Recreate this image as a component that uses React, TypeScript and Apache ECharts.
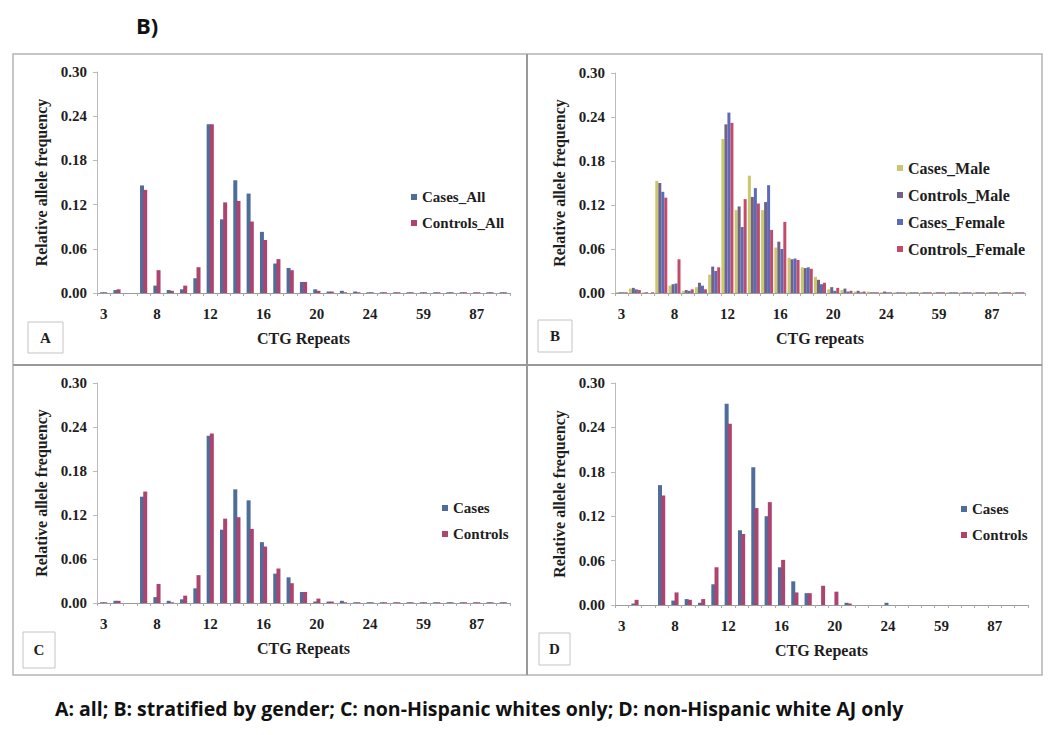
import React, { useEffect, useRef } from "react";
import * as echarts from "echarts";

// CTG repeat categories (only every 4th label is shown on the axis)
const categories = [
  "3", "4", "5", "7", "8", "9", "10", "11", "12", "13", "14", "15", "16", "17", "18", "19",
  "20", "21", "22", "23", "24", "25", "26", "28", "59", "64", "70", "80", "87", "93", "100",
];

const yTicks = [0, 0.06, 0.12, 0.18, 0.24, 0.3];

// Panel A: all
const casesAll = [0.001, 0.004, 0, 0.146, 0.010, 0.004, 0.005, 0.020, 0.229, 0.100, 0.153, 0.135, 0.083, 0.040, 0.034, 0.015, 0.005, 0.002, 0.003, 0.002, 0.001, 0.001, 0.001, 0.001, 0.001, 0.001, 0.001, 0.001, 0.001, 0.001, 0.001];
const controlsAll = [0.001, 0.005, 0, 0.140, 0.031, 0.003, 0.010, 0.035, 0.229, 0.123, 0.125, 0.097, 0.072, 0.046, 0.031, 0.015, 0.003, 0.002, 0.001, 0.001, 0.001, 0.001, 0.001, 0.001, 0.001, 0.001, 0.001, 0.001, 0.001, 0.001, 0.001];

// Panel B: stratified by gender
const casesMale = [0.001, 0.006, 0.001, 0.153, 0.010, 0.003, 0.008, 0.025, 0.210, 0.113, 0.160, 0.113, 0.062, 0.048, 0.035, 0.022, 0.005, 0.004, 0.002, 0.002, 0.001, 0.001, 0.001, 0.001, 0.001, 0.001, 0.001, 0.001, 0.001, 0.001, 0.001];
const controlsMale = [0.001, 0.007, 0.001, 0.150, 0.012, 0.004, 0.014, 0.036, 0.230, 0.118, 0.131, 0.124, 0.070, 0.046, 0.034, 0.018, 0.008, 0.006, 0.003, 0.001, 0.002, 0.001, 0.001, 0.001, 0.001, 0.001, 0.001, 0.001, 0.001, 0.001, 0.001];
const casesFemale = [0.001, 0.005, 0, 0.138, 0.013, 0.003, 0.010, 0.030, 0.246, 0.090, 0.143, 0.147, 0.060, 0.047, 0.035, 0.012, 0.003, 0.002, 0.001, 0.001, 0.001, 0.001, 0.001, 0.001, 0.001, 0.001, 0.001, 0.001, 0.001, 0.001, 0.001];
const controlsFemale = [0.001, 0.004, 0.001, 0.130, 0.046, 0.005, 0.005, 0.035, 0.232, 0.128, 0.122, 0.086, 0.097, 0.045, 0.033, 0.014, 0.007, 0.003, 0.002, 0.001, 0.001, 0.001, 0.001, 0.001, 0.001, 0.001, 0.001, 0.001, 0.001, 0.001, 0.001];

// Panel C: non-Hispanic whites only
const casesC = [0.001, 0.003, 0, 0.145, 0.008, 0.003, 0.005, 0.020, 0.228, 0.100, 0.155, 0.140, 0.083, 0.040, 0.035, 0.015, 0.002, 0.002, 0.003, 0.001, 0.001, 0.001, 0.001, 0.001, 0.001, 0.001, 0.001, 0.001, 0.001, 0.001, 0.001];
const controlsC = [0.001, 0.003, 0, 0.152, 0.026, 0.001, 0.010, 0.038, 0.231, 0.115, 0.117, 0.101, 0.077, 0.047, 0.027, 0.015, 0.006, 0.002, 0.001, 0.001, 0.001, 0.001, 0.001, 0.001, 0.001, 0.001, 0.001, 0.001, 0.001, 0.001, 0.001];

// Panel D: non-Hispanic white AJ only
const casesD = [0, 0.002, 0, 0.162, 0.006, 0.008, 0.003, 0.028, 0.272, 0.101, 0.186, 0.120, 0.051, 0.032, 0.016, 0, 0, 0.003, 0, 0, 0.003, 0, 0, 0, 0, 0, 0, 0, 0, 0, 0];
const controlsD = [0, 0.007, 0, 0.148, 0.017, 0.007, 0.008, 0.051, 0.245, 0.096, 0.131, 0.139, 0.061, 0.017, 0.016, 0.026, 0.018, 0.002, 0, 0, 0, 0, 0, 0, 0, 0, 0, 0, 0, 0, 0];

const SERIF = "'Liberation Serif', 'Times New Roman', serif";
const SANS = "'Open Sans', Lato, sans-serif";
const TXT = "#1e1e1e";

const C_CASES = "#4f6d9a";
const C_CONTROLS = "#ad4470";
const C_CM = "#c9c86a";
const C_COM = "#6f6488";
const C_CF = "#5b6bb8";
const C_COF = "#c24a6a";

const grids = [
  { left: 97, top: 72, width: 413, height: 221 },
  { left: 615, top: 73, width: 410, height: 220 },
  { left: 97, top: 383, width: 413, height: 220 },
  { left: 615, top: 383, width: 413, height: 222 },
];
const xNames = ["CTG Repeats", "CTG repeats", "CTG Repeats", "CTG Repeats"];

function xAxis(i: number) {
  return {
    type: "category",
    gridIndex: i,
    data: categories,
    boundaryGap: true,
    axisLine: { lineStyle: { color: "#9a9a9a", width: 1 } },
    axisTick: { show: true, interval: 0, length: 3, lineStyle: { color: "#aaa" } },
    axisLabel: { interval: 3, fontFamily: SERIF, fontWeight: "bold", fontSize: 15, color: TXT, margin: 13 },
    name: xNames[i],
    nameLocation: "middle",
    nameGap: 37,
    nameTextStyle: { fontFamily: SERIF, fontWeight: "bold", fontSize: 16, color: TXT },
  };
}

function yAxis(i: number) {
  return {
    type: "value",
    gridIndex: i,
    min: yTicks[0],
    max: yTicks[yTicks.length - 1],
    interval: 0.06,
    splitLine: { show: false },
    axisLine: { show: true, lineStyle: { color: "#bbb", width: 1 } },
    axisTick: { show: true, length: 4, lineStyle: { color: "#bbb" } },
    axisLabel: {
      fontFamily: SERIF, fontWeight: "bold", fontSize: 15, color: TXT, margin: 10,
      formatter: (v: number) => v.toFixed(2),
    },
    name: "Relative allele frequency",
    nameLocation: "middle",
    nameGap: 48,
    nameTextStyle: { fontFamily: SERIF, fontWeight: "bold", fontSize: 16, color: TXT },
  };
}

function bar(name: string, data: number[], idx: number, color: string, width: number, gap: string) {
  return {
    type: "bar",
    name,
    data,
    xAxisIndex: idx,
    yAxisIndex: idx,
    barWidth: width,
    barGap: gap,
    itemStyle: { color },
  };
}

function legend(names: string[], left: number, top: number, fontSize: number, gap: number) {
  return {
    data: names,
    orient: "vertical",
    left,
    top,
    padding: 0,
    icon: "rect",
    itemWidth: 6,
    itemHeight: 6,
    itemGap: gap,
    selectedMode: false,
    textStyle: { fontFamily: SERIF, fontWeight: "bold", fontSize, color: TXT, lineHeight: 16 },
  };
}

function letterBox(letter: string, x: number, y: number, w: number, h: number) {
  return [
    { type: "rect", shape: { x, y, width: w, height: h }, style: { fill: "#fff", stroke: "#c4c4c4", lineWidth: 1 } },
    {
      type: "text", x: x + w / 2, y: y + h / 2,
      style: { text: letter, fontFamily: SERIF, fontWeight: "bold", fontSize: 15, fill: TXT, align: "center", verticalAlign: "middle" },
    },
  ];
}

export default function App() {
  const ref = useRef<HTMLDivElement>(null);
  useEffect(() => {
    if (!ref.current) return;
    const chart = echarts.init(ref.current, null, { renderer: "svg" });
    chart.setOption({
      animation: false,
      backgroundColor: "#fff",
      grid: grids,
      xAxis: [0, 1, 2, 3].map(xAxis),
      yAxis: [0, 1, 2, 3].map(yAxis),
      legend: [
        legend(["Cases_All", "Controls_All"], 411, 189, 15, 10),
        legend(["Cases_Male", "Controls_Male", "Cases_Female", "Controls_Female"], 897, 160, 16, 11),
        legend(["Cases", "Controls"], 442, 500, 15, 10),
        legend(["Cases", "Controls"], 961, 501, 15, 10),
      ],
      series: [
        bar("Cases_All", casesAll, 0, C_CASES, 4, "-20%"),
        bar("Controls_All", controlsAll, 0, C_CONTROLS, 4, "-20%"),
        bar("Cases_Male", casesMale, 1, C_CM, 3, "0%"),
        bar("Controls_Male", controlsMale, 1, C_COM, 3, "0%"),
        bar("Cases_Female", casesFemale, 1, C_CF, 3, "0%"),
        bar("Controls_Female", controlsFemale, 1, C_COF, 3, "0%"),
        bar("Cases", casesC, 2, C_CASES, 4, "-20%"),
        bar("Controls", controlsC, 2, C_CONTROLS, 4, "-20%"),
        bar("Cases", casesD, 3, C_CASES, 4, "-20%"),
        bar("Controls", controlsD, 3, C_CONTROLS, 4, "-20%"),
      ],
      graphic: [
        { type: "rect", shape: { x: 13, y: 54, width: 1029, height: 621 }, style: { fill: "none", stroke: "#b4b4b4", lineWidth: 1.5 }, z: -1 },
        { type: "line", shape: { x1: 527, y1: 54, x2: 527, y2: 675 }, style: { stroke: "#999", lineWidth: 2 } },
        { type: "line", shape: { x1: 13, y1: 365, x2: 1042, y2: 365 }, style: { stroke: "#999", lineWidth: 2 } },
        ...letterBox("A", 28, 322, 35, 31),
        ...letterBox("B", 538, 320, 34, 32),
        ...letterBox("C", 23, 632, 32, 36),
        ...letterBox("D", 539, 633, 31, 32),
        {
          type: "text", x: 136, y: 25,
          style: { text: "B)", fontFamily: SANS, fontWeight: "bold", fontSize: 22, fill: "#111", align: "left", verticalAlign: "middle" },
        },
        {
          type: "text", x: 55, y: 708,
          style: {
            text: "A: all; B: stratified by gender; C: non-Hispanic whites only; D: non-Hispanic white AJ only",
            fontFamily: SANS, fontWeight: "bold", fontSize: 19.5, fill: "#111", align: "left", verticalAlign: "middle",
          },
        },
      ],
    });
    return () => chart.dispose();
  }, []);
  return <div ref={ref} style={{ position: "fixed", left: 0, top: 0, width: 1050, height: 735 }} />;
}
